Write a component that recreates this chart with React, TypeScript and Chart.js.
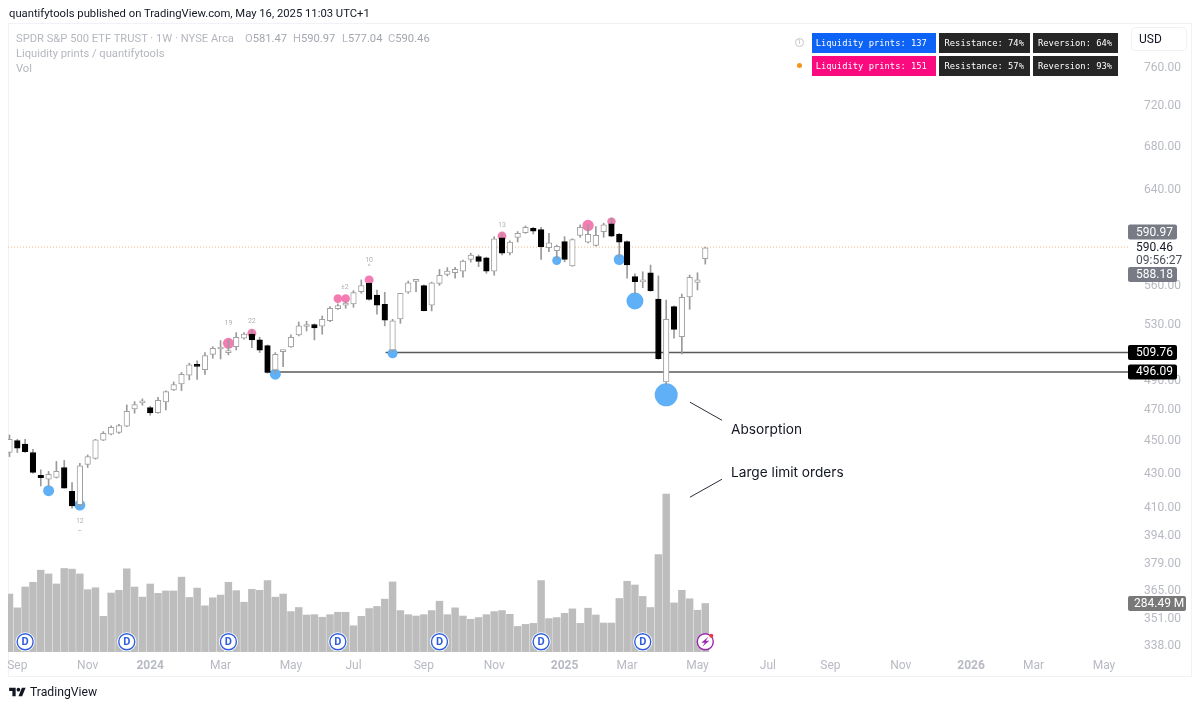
import React, { useEffect, useRef } from "react";
import { Chart, registerables } from "chart.js";

Chart.register(...registerables);

// Weekly candles, index 0 = first visible week (Aug/Sep 2023)
const opens = [443.1,450.6,448.3,443.1,429.2,426.8,427.9,433.9,419.6,411.8,435.7,439.4,450.8,454.6,455.8,459.7,471.0,475.0,471.9,468.6,475.7,483.8,487.8,493.8,500.8,497.7,508.5,512.3,509.7,514.0,520.1,523.2,518.9,514.7,497.5,510.4,513.8,522.5,528.7,530.2,528.9,533.1,542.1,544.8,545.8,555.2,561.7,552.6,545.5,511.6,534.3,554.7,563.2,559.9,544.7,561.7,568.7,570.1,571.3,580.8,583.2,582.1,571.3,598.8,586.2,599.1,603.1,606.7,605.6,590.5,588.0,595.5,575.5,600.8,595.0,592.3,603.9,610.6,601.7,595.5,567.1,562.9,570.1,549.5,489.2,543.7,521.3,551.2,562.5,581.47];
const closes = [451.4,445.8,443.7,430.9,427.8,429.8,431.5,421.5,411.2,434.9,440.6,451.0,455.2,459.1,460.2,469.5,473.9,475.4,468.4,476.8,482.6,487.4,494.5,501.0,500.0,507.6,512.8,513.0,510.9,520.8,523.2,518.9,511.4,495.7,508.5,511.1,520.8,529.2,529.2,527.7,534.1,542.4,544.5,545.0,554.4,559.9,549.2,544.7,533.4,532.9,553.9,562.2,564.0,540.6,562.2,568.1,571.5,572.8,579.5,584.5,579.2,571.3,597.9,585.9,595.2,602.5,607.6,604.4,591.3,594.6,591.6,580.8,597.3,607.6,601.7,600.8,609.7,600.2,595.0,576.3,563.0,563.9,556.0,505.4,534.1,526.6,550.7,566.5,564.4,590.46];
const highs = [454.1,451.4,451.4,445.1,432.5,431.5,437.6,438.2,424.8,436.5,441.6,451.4,456.3,460.0,461.0,473.7,475.9,477.7,472.8,478.8,483.1,489.2,495.7,502.2,503.8,509.7,514.0,518.4,518.9,524.2,524.2,526.1,520.8,515.2,509.7,511.6,522.5,532.1,532.6,530.7,536.6,543.7,545.8,547.4,556.0,564.4,562.2,556.5,554.7,534.1,553.9,563.5,564.4,560.5,562.7,572.8,574.2,574.5,580.3,585.9,584.5,582.7,599.7,602.5,596.1,604.0,608.8,607.6,607.6,602.5,592.7,599.7,597.9,609.7,609.7,608.2,611.2,615.5,602.5,596.3,569.3,570.9,576.3,567.6,548.7,544.2,553.4,568.3,570.1,590.97];
const lows = [440.6,443.1,443.1,430.5,422.8,422.5,427.5,421.5,409.9,410.9,433.9,439.0,450.6,454.1,455.2,459.5,468.2,473.5,466.9,468.2,470.4,483.3,483.3,490.6,491.0,494.3,505.7,505.2,508.1,511.6,519.4,513.3,509.7,495.2,495.2,499.8,513.5,521.8,525.4,518.9,523.0,532.4,541.6,542.4,543.2,553.9,548.7,537.9,529.2,510.4,531.1,553.9,555.2,540.4,540.4,560.1,567.6,565.7,566.5,578.7,575.0,569.6,568.1,584.5,584.5,595.2,602.5,601.9,580.8,587.2,581.6,578.9,575.3,599.1,594.5,591.7,599.1,599.7,583.2,565.7,553.9,558.3,555.5,505.0,487.8,520.1,508.7,541.6,556.5,577.04];
const volumes = [339.9,258.9,381.4,409,480,458,399,490,486,458,365.6,377,209,346,362,488,381,322,399,344,358,358,439,320,375,271,318,334,409,360,292,368,362,419,322,340,237,261,217,219,204,219,233,233,154,209,255,267,310,411,243,219,211,219,243,298,219,259,211,192,202,219,237,243,221,150,162,168,419,196,202,227,253,168,257,217,170,170,314,415,393,326,261,571,927,288,362,312,245,284.49];

// Liquidity print markers: week index and price level
const blueIdx = [5,9,34,49,70,78,80,84];
const bluePrice = [420.0,411.6,494.5,509.2,580.0,580.8,547.9,480.4];
const pinkIdx = [28,31,42,43,46,63,74,77];
const pinkPrice = [516.4,523.7,549.8,549.8,564.4,600.2,609.2,612.5];

// Tick labels
const priceTicks = [760,720,680,640,560,530,490,470,450,430,410,394,379,365,351,338];
const timeTickPos = [1,10,18,27,36,44,53,62,71,79,88,97,105,114,123,131,140];
const timeTickLabels = ["Sep","Nov","2024","Mar","May","Jul","Sep","Nov","2025","Mar","May","Jul","Sep","Nov","2026","Mar","May"];

// Level lines
const lastHigh = 590.97;
const levelA = 509.76;
const levelAStart = 48.1;
const levelB = 496.09;
const levelBStart = 32.7;

// Dividend badge weeks, event badge week
const dividendWeeks = [2,15,28,42,55,68,81];
const eventWeek = 89;

// Pointer lines next to the annotations (week index, price)
const pointerAWeeks = [87.04,91.13];
const pointerAPrices = [475.5,463.6];
const pointerBWeeks = [87.04,91.13];
const pointerBPrices = [416.2,426.8];

// Small gray labels above/below markers
const noteTexts = ["19","22","±2","10","^","13","12","–"];
const noteWeeks = [28,31,42.9,46,46,63,9,9];
const notePrices = [531.3,532.8,558.8,580.3,574.7,609,402.5,396.6];

const blueRadii = [5.5,5.5,5.5,5,4.5,5.5,8.5,11.5];
const pinkRadii = [5.5,4.5,4.3,4.3,4.5,4.5,5.7,4.2];

const FONT = "Roboto, 'Noto Sans', sans-serif";
const INTER = "Inter, 'Noto Sans', sans-serif";
const MONO = "'DejaVu Sans Mono', monospace";
const AXIS_GRAY = "#b7bac2";
const WICK = "#9a9a9a";
const BADGE_LEVEL = 60;
const X_MIN = -0.192;
const X_MAX = 143.07;

const overlayPlugin = {
  id: "overlay",
  afterDraw(chart: any) {
    const { ctx, scales } = chart;
    const y = scales.y;
    const x = scales.x;
    const v = scales.yVol;
    ctx.save();
    ctx.textBaseline = "middle";

    // small notes
    ctx.font = `7px ${FONT}`;
    ctx.fillStyle = "#adb0b8";
    ctx.textAlign = "center";
    noteTexts.forEach((t, i) => {
      ctx.fillText(t, x.getPixelForValue(noteWeeks[i]), y.getPixelForValue(notePrices[i]));
    });

    // badges
    const by = v.getPixelForValue(BADGE_LEVEL);
    ctx.font = `bold 11px ${FONT}`;
    ctx.fillStyle = "#2f5fdc";
    dividendWeeks.forEach((w) => ctx.fillText("D", x.getPixelForValue(w), by + 0.5));
    const ex = x.getPixelForValue(eventWeek);
    ctx.fillStyle = "#9c27b0";
    ctx.beginPath();
    ctx.moveTo(ex + 3, by - 5);
    ctx.lineTo(ex - 4, by + 1);
    ctx.lineTo(ex - 0.5, by + 1);
    ctx.lineTo(ex - 3, by + 5);
    ctx.lineTo(ex + 4, by - 1);
    ctx.lineTo(ex + 0.5, by - 1);
    ctx.closePath();
    ctx.fill();
    ctx.fillStyle = "#f23645";
    ctx.beginPath();
    ctx.arc(ex + 6, by - 6, 2, 0, Math.PI * 2);
    ctx.fill();

    // price tags
    const tag = (cy: number, text: string, bg: string, fg: string, w: number, tx = 1136) => {
      ctx.fillStyle = bg;
      ctx.beginPath();
      ctx.roundRect(1128, cy - 7.5, w, 15, 2);
      ctx.fill();
      ctx.fillStyle = fg;
      ctx.textAlign = "left";
      ctx.font = `12px ${FONT}`;
      ctx.fillText(text, tx, cy + 0.5);
    };
    tag(y.getPixelForValue(lastHigh) - 15, "590.97", "#787b86", "#ffffff", 49);
    ctx.fillStyle = "#131722";
    ctx.textAlign = "left";
    ctx.font = `12px ${FONT}`;
    ctx.fillText("590.46", 1136, y.getPixelForValue(590.46) + 0.5);
    ctx.fillStyle = "#4a4e58";
    ctx.fillText("09:56:27", 1136, y.getPixelForValue(590.46) + 13.5);
    tag(y.getPixelForValue(588.18) + 24, "588.18", "#787b86", "#ffffff", 49);
    tag(y.getPixelForValue(levelA), "509.76", "#000000", "#ffffff", 49);
    tag(y.getPixelForValue(levelB), "496.09", "#000000", "#ffffff", 49);
    tag(v.getPixelForValue(284.49), "284.49 M", "#787878", "#ffffff", 58, 1134);
    ctx.restore();
  },
};

const hline = (start: number, level: number, color: string, width: number, dash: number[], order: number) => ({
  type: "line" as const,
  data: [{ x: start, y: level }, { x: X_MAX, y: level }],
  borderColor: color,
  borderWidth: width,
  borderDash: dash,
  pointRadius: 0,
  yAxisID: "y",
  xAxisID: "x",
  order,
});

const pointer = (ws: number[], ps: number[]) => ({
  type: "line" as const,
  data: ws.map((w, i) => ({ x: w, y: ps[i] })),
  borderColor: "#2a2e39",
  borderWidth: 1,
  pointRadius: 0,
  yAxisID: "y",
  xAxisID: "x",
  order: 1,
});

export default function App() {
  const ref = useRef<HTMLCanvasElement | null>(null);

  useEffect(() => {
    if (!ref.current) return;
    const up = (i: number) => closes[i] >= opens[i];
    const chart = new Chart(ref.current, {
      type: "bar",
      plugins: [overlayPlugin],
      data: {
        datasets: [
          {
            type: "bar",
            data: volumes.map((val, i) => ({ x: i, y: val })),
            backgroundColor: "#bdbdbd",
            barThickness: 6.8,
            grouped: false,
            yAxisID: "yVol",
            xAxisID: "x",
            order: 20,
          },
          {
            type: "scatter",
            data: dividendWeeks.map((w) => ({ x: w, y: BADGE_LEVEL })),
            pointRadius: 9.6,
            pointBackgroundColor: "#ffffff",
            pointBorderWidth: 0,
            yAxisID: "yVol",
            xAxisID: "x",
            order: 19,
          },
          {
            type: "scatter",
            data: dividendWeeks.map((w) => ({ x: w, y: BADGE_LEVEL })),
            pointRadius: 8,
            pointBackgroundColor: "#ffffff",
            pointBorderColor: "#2f5fdc",
            pointBorderWidth: 1.4,
            yAxisID: "yVol",
            xAxisID: "x",
            order: 18,
          },
          {
            type: "scatter",
            data: [{ x: eventWeek, y: BADGE_LEVEL }],
            pointRadius: 8,
            pointBackgroundColor: "#ffffff",
            pointBorderColor: "#9c27b0",
            pointBorderWidth: 1.4,
            yAxisID: "yVol",
            xAxisID: "x",
            order: 18,
          },
          hline(X_MIN, lastHigh, "#f5b880", 1, [1, 2], 9),
          hline(levelAStart, levelA, "#5a5a5a", 1.5, [], 8),
          hline(levelBStart, levelB, "#5a5a5a", 1.5, [], 8),
          {
            type: "scatter",
            data: blueIdx.map((w, i) => ({ x: w, y: bluePrice[i] })),
            pointRadius: (c: any) => blueRadii[c.dataIndex],
            pointBackgroundColor: "#5fb0f6",
            pointBorderWidth: 0,
            yAxisID: "y",
            xAxisID: "x",
            order: 7,
          },
          {
            type: "scatter",
            data: pinkIdx.map((w, i) => ({ x: w, y: pinkPrice[i] })),
            pointRadius: (c: any) => pinkRadii[c.dataIndex],
            pointBackgroundColor: "#f47cb2",
            pointBorderWidth: 0,
            yAxisID: "y",
            xAxisID: "x",
            order: 7,
          },
          {
            type: "bar",
            data: highs.map((h, i) => ({ x: i, y: [lows[i], h] })),
            backgroundColor: WICK,
            barThickness: 1,
            grouped: false,
            yAxisID: "y",
            xAxisID: "x",
            order: 5,
          },
          {
            type: "bar",
            data: opens.map((o, i) => ({ x: i, y: [o, closes[i]] })),
            backgroundColor: (c: any) => (up(c.dataIndex) ? "#ffffff" : "#000000"),
            borderColor: (c: any) => (up(c.dataIndex) ? "#a0a0a0" : "#000000"),
            borderWidth: 1,
            borderSkipped: false,
            minBarLength: 2,
            barThickness: 5.6,
            grouped: false,
            yAxisID: "y",
            xAxisID: "x",
            order: 4,
          },
          pointer(pointerAWeeks, pointerAPrices),
          pointer(pointerBWeeks, pointerBPrices),
        ] as any,
      },
      options: {
        responsive: false,
        animation: false,
        devicePixelRatio: window.devicePixelRatio,
        layout: { autoPadding: false, padding: { left: 8, top: 24, right: 10, bottom: 32 } },
        plugins: { legend: { display: false }, tooltip: { enabled: false }, title: { display: false } },
        scales: {
          x: {
            type: "linear",
            min: X_MIN,
            max: X_MAX,
            offset: false,
            grid: { display: false },
            border: { display: false },
            afterBuildTicks: (s: any) => {
              s.ticks = timeTickPos.map((value) => ({ value }));
            },
            afterFit: (s: any) => {
              s.height = 24;
            },
            ticks: {
              autoSkip: false,
              maxRotation: 0,
              minRotation: 0,
              padding: -1,
              color: AXIS_GRAY,
              font: (c: any) => {
                const label = c.tick ? c.tick.label : "";
                return label === "2024" || label === "2025" || label === "2026"
                  ? { family: FONT, size: 12, weight: "bold" }
                  : { family: FONT, size: 12 };
              },
              callback: (val: any) => {
                const i = timeTickPos.indexOf(Number(val));
                return i >= 0 ? timeTickLabels[i] : "";
              },
            },
          },
          y: {
            type: "logarithmic",
            position: "right",
            min: 335,
            max: 808,
            grid: { display: false },
            border: { display: false },
            afterBuildTicks: (s: any) => {
              s.ticks = priceTicks.map((value) => ({ value }));
            },
            afterFit: (s: any) => {
              s.width = 62;
            },
            ticks: {
              autoSkip: false,
              padding: 8,
              color: AXIS_GRAY,
              font: { family: FONT, size: 12 },
              callback: (val: any) => Number(val).toFixed(2),
            },
          },
          yVol: {
            type: "linear",
            display: false,
            min: 0,
            max: 3684,
          },
        },
      } as any,
    });
    return () => chart.destroy();
  }, []);

  const legendText: React.CSSProperties = {
    position: "absolute",
    font: `11.2px ${FONT}`,
    color: "#b4b7bf",
    whiteSpace: "nowrap",
    lineHeight: "15px",
  };
  const box = (left: number, top: number, width: number, pad: number, bg: string, text: string) => (
    <div
      style={{
        position: "absolute",
        left,
        top,
        width,
        height: 20,
        background: bg,
        color: "#ffffff",
        font: `8.8px ${MONO}`,
        lineHeight: "20px",
        paddingLeft: pad,
        boxSizing: "border-box",
        whiteSpace: "nowrap",
      }}
    >
      {text}
    </div>
  );
  const v = { color: "#a3a6af" };

  return (
    <div style={{ position: "fixed", left: 0, top: 0, width: 1200, height: 708, background: "#ffffff", overflow: "hidden" }}>
      <div style={{ position: "absolute", left: 8, top: 23, width: 1184, height: 654, border: "1px solid #f0f2f6", boxSizing: "border-box" }} />
      <canvas ref={ref} width={1200} height={708} style={{ position: "absolute", left: 0, top: 0, width: 1200, height: 708, display: "block" }} />

      <div style={{ position: "absolute", left: 9, top: 6, font: `11.25px ${FONT}`, color: "#131722", whiteSpace: "nowrap", lineHeight: "16px" }}>
        quantifytools published on TradingView.com, May 16, 2025 11:03 UTC+1
      </div>
      <div style={{ ...legendText, left: 16, top: 31 }}>SPDR S&amp;P 500 ETF TRUST · 1W · NYSE Arca</div>
      <div style={{ ...legendText, left: 245, top: 31 }}>O<span style={v}>581.47</span></div>
      <div style={{ ...legendText, left: 293, top: 31 }}>H<span style={v}>590.97</span></div>
      <div style={{ ...legendText, left: 342, top: 31 }}>L<span style={v}>577.04</span></div>
      <div style={{ ...legendText, left: 388, top: 31 }}>C<span style={v}>590.46</span></div>
      <div style={{ ...legendText, left: 16, top: 46 }}>Liquidity prints / quantifytools</div>
      <div style={{ ...legendText, left: 16, top: 61 }}>Vol</div>

      <div style={{ position: "absolute", left: 795, top: 38, width: 7, height: 7, border: "1px solid #c4c6cc", borderRadius: "50%", font: `7px ${FONT}`, color: "#b4b7bf", textAlign: "center", lineHeight: "7px" }}>i</div>
      <div style={{ position: "absolute", left: 797, top: 63, width: 5, height: 5, background: "#f7931a", borderRadius: "50%" }} />
      {box(812, 33, 124, 3.7, "#0d63f5", "Liquidity prints: 137")}
      {box(939, 33, 91, 5.5, "#262626", "Resistance: 74%")}
      {box(1033, 33, 85, 5, "#262626", "Reversion: 64%")}
      {box(812, 56, 124, 3.7, "#fa0a7e", "Liquidity prints: 151")}
      {box(939, 56, 91, 5.5, "#262626", "Resistance: 57%")}
      {box(1033, 56, 85, 5, "#262626", "Reversion: 93%")}

      <div style={{ position: "absolute", left: 1131, top: 27, width: 56, height: 24, border: "1px solid #f0f2f6", borderRadius: 4, boxSizing: "border-box", font: `12px ${FONT}`, color: "#131722", lineHeight: "22px", paddingLeft: 7 }}>USD</div>

      <div style={{ position: "absolute", left: 731, top: 420, font: `13.7px ${INTER}`, color: "#131722", whiteSpace: "nowrap", lineHeight: "18px" }}>Absorption</div>
      <div style={{ position: "absolute", left: 731, top: 463, font: `13.7px ${INTER}`, color: "#131722", whiteSpace: "nowrap", lineHeight: "18px" }}>Large limit orders</div>

      <svg style={{ position: "absolute", left: 9, top: 686 }} width="17" height="13" viewBox="0 0 36 28">
        <path d="M14 22H7V11H0V4h14v18zM28 22h-8l7.5-18h8L28 22z" fill="#131722" />
        <circle cx="20" cy="8" r="4" fill="#131722" />
      </svg>
      <div style={{ position: "absolute", left: 30, top: 684, font: `12.2px ${FONT}`, color: "#131722", whiteSpace: "nowrap", lineHeight: "16px" }}>TradingView</div>
    </div>
  );
}
